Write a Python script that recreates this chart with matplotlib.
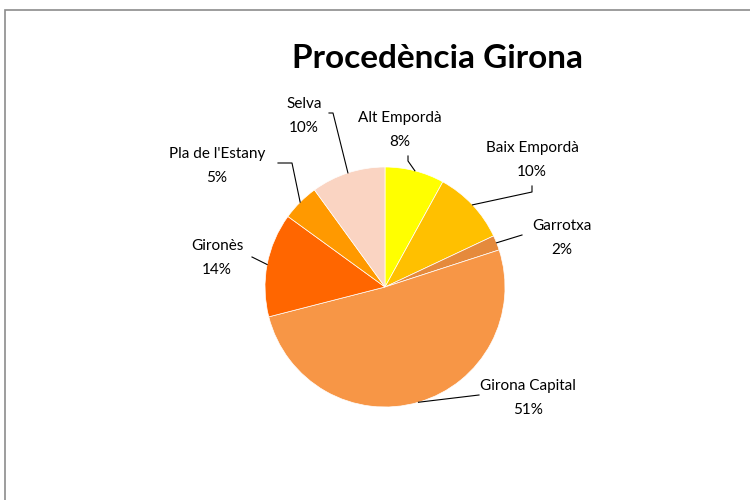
import numpy as np
import matplotlib.pyplot as plt
from matplotlib.patches import Rectangle

plt.rcParams['font.family'] = ['Lato', 'DejaVu Sans']

# data
comarques = ["Alt Empordà", "Baix Empordà", "Garrotxa", "Girona Capital",
             "Gironès", "Pla de l'Estany", "Selva"]
percent = [8, 10, 2, 51, 14, 5, 10]
colors = ["#FFFF00", "#FFC000", "#E58A3C", "#F79646",
          "#FF6600", "#FF9900", "#FAD4C2"]

# layout (pixels from top-left of the 750x500 image)
W, H = 750, 500
cx, cy, r = 385, 287, 120
label_pos = [(400, 130), (532, 160), (562, 238), (528, 398),
             (217, 258), (217, 166), (304, 116)]
leader_knee = [(408, 161), (532, 192), (522, 235), (479, 395),
               (252, 257), (292, 163), (333, 113)]
leader_end = [(408, 156), (532, 186), (522, 235), (479, 395),
              (252, 257), (278, 163), (329, 113)]


def Y(py):
    return H - py


fig = plt.figure(figsize=(W / 100, H / 100), dpi=100)
ax = fig.add_axes([0, 0, 1, 1])

ax.pie(percent, colors=colors, startangle=90, counterclock=False,
       center=(cx, Y(cy)), radius=r,
       wedgeprops=dict(edgecolor="white", linewidth=0.5))

total = sum(percent)
cum = np.cumsum([0] + percent[:-1])
for i, name in enumerate(comarques):
    mid = np.deg2rad((cum[i] + percent[i] / 2) / total * 360)
    ex, ey = cx + r * np.sin(mid), cy - r * np.cos(mid)
    kx, ky = leader_knee[i]
    tx, ty = leader_end[i]
    ax.plot([ex, kx, tx], [Y(ey), Y(ky), Y(ty)], color="black", lw=0.8)
    lx, ly = label_pos[i]
    pct = f"{percent[i] / total * 100:.0f}%"
    ax.text(lx, Y(ly), f"{name}\n{pct}", ha="center", va="center",
            fontsize=11, linespacing=1.9, color="black")

ax.text(437, Y(58), "Procedència Girona", ha="center", va="center",
        fontsize=24, fontweight="bold")

ax.set_xlim(0, W)
ax.set_ylim(0, H)
ax.axis("off")

# chart frame
fig.patches.append(Rectangle((5 / W, -0.1), 1.2, 1.1 - 10 / H,
                             transform=fig.transFigure, fill=False,
                             edgecolor="#8c8c8c", lw=1.2))

fig.savefig("out.png", dpi=100)
